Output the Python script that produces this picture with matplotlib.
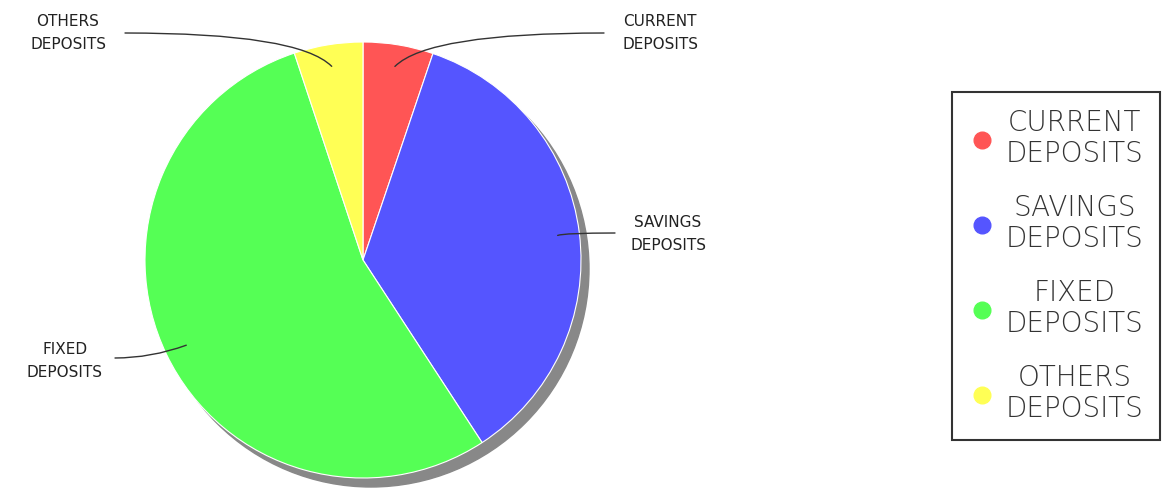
import numpy as np
import matplotlib.pyplot as plt
from matplotlib.lines import Line2D
from matplotlib.patches import Circle

# data (shares, %)
labels = ["CURRENT\nDEPOSITS", "SAVINGS\nDEPOSITS", "FIXED\nDEPOSITS", "OTHERS\nDEPOSITS"]
values = [5.2, 35.6, 54.1, 5.1]
colors = ["#ff5555", "#5555ff", "#55ff55", "#ffff55"]

W, H = 1164, 491
fig = plt.figure(figsize=(W / 100, H / 100), dpi=100)
ax = fig.add_axes([0, 0, 1, 1])

cx, cy, r = 363, H - 260, 218

# shadow
ax.add_patch(Circle((cx + 8, cy - 9), r, color="#888888", zorder=0))

wedges, _ = ax.pie(values, colors=colors, startangle=90, counterclock=False,
                   center=(cx, cy), radius=r, frame=True,
                   wedgeprops=dict(edgecolor="white", linewidth=0.8))
ax.set_xlim(0, W)
ax.set_ylim(0, H)
ax.axis("off")

# slice labels: text position (px), where the connector starts, its angles
label_pos = [(660, H - 33), (668, H - 234), (65, H - 361), (68, H - 33)]
line_end = [(604, H - 33), (615, H - 233), (115, H - 358), (125, H - 33)]
angles_b = [45, 20, 20, 135]
for w, txt, tp, le, angb in zip(wedges, labels, label_pos, line_end, angles_b):
    ang = np.deg2rad((w.theta1 + w.theta2) / 2)
    p = (cx + 0.9 * r * np.cos(ang), cy + 0.9 * r * np.sin(ang))
    ax.annotate("", xy=p, xytext=le,
                arrowprops=dict(arrowstyle="-", color="#333333", lw=1,
                                connectionstyle=f"angle3,angleA=0,angleB={angb}",
                                shrinkA=0, shrinkB=0))
    ax.text(tp[0], tp[1], txt, ha="center", va="center", fontsize=11,
            color="#222222", linespacing=1.6)

handles = [Line2D([], [], marker="o", linestyle="", markersize=12,
                  markerfacecolor=c, markeredgecolor=c) for c in colors]
leg = fig.legend(handles, labels, loc="center",
                 bbox_to_anchor=(1056 / W, 1 - 266 / H),
                 fontsize=20, frameon=True, fancybox=False,
                 edgecolor="black", labelspacing=0.92, handletextpad=0.35,
                 borderpad=0.6, handlelength=1, borderaxespad=0)
leg.get_frame().set_linewidth(1.5)
for t in leg.get_texts():
    t.set_multialignment("center")
    t.set_linespacing(1.15)
    t.set_color("#333333")
    t.set_fontweight("light")

fig.savefig("out.png", dpi=100)
